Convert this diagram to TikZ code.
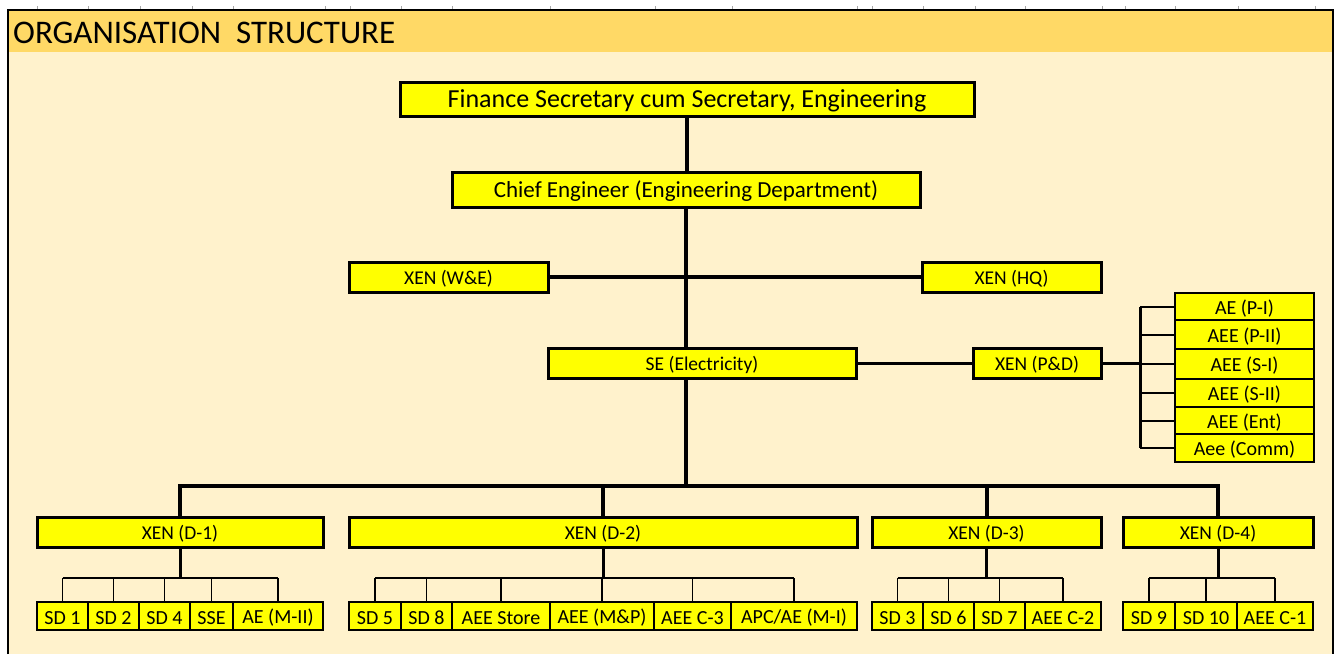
\documentclass[tikz,border=0pt]{standalone}
\usepackage{fontspec}
\setmainfont{Carlito}
\definecolor{hdr}{HTML}{FFD966}
\definecolor{bodyc}{HTML}{FFF2CC}
\definecolor{boxy}{HTML}{FFFF00}
\newcommand\obox[7]{\node[#6, minimum width={#4-#2}, minimum height={#5-#3}] (#1) at ({(#2+#4)/2},{(#3+#5)/2}) {\raisebox{-2pt}[\height][\depth]{#7}};}
\begin{document}
\begin{tikzpicture}[x=1pt,y=-1pt,
  bigbox/.style={draw, fill=boxy, line width=3pt, inner sep=0pt, font=\fontsize{19.5}{21}\selectfont},
  smallbox/.style={draw, fill=boxy, line width=2pt, inner sep=0pt, font=\fontsize{20}{21}\selectfont},
  conn/.style={line width=4pt},
  midconn/.style={line width=3pt},
  subh/.style={line width=2pt},
  tickl/.style={line width=1.2pt},
  gridtick/.style={line width=0.8pt, gray!70}]
\useasboundingbox (0,0) rectangle (1336,654);
\fill[bodyc] (8,52) rectangle (1333,654);
\fill[hdr] (8,10) rectangle (1333,52);
\foreach \t in {37,88,140,192,233,325,350,401,452,550,655,732,857,872,923,975,1025,1102,1125,1175,1238,1315}
  \draw[gridtick] (\t,6) -- (\t,10);
\draw[line width=2pt] (8,654) -- (8,10) -- (1333,10) -- (1333,654);
\node[anchor=west, inner sep=0pt, font=\fontsize{33}{35}\selectfont] (title) at (13,33) {ORGANISATION\ \ STRUCTURE};
% top levels
\obox{fs}{400}{82}{974}{116}{bigbox, font=\fontsize{26}{28}\selectfont}{Finance Secretary cum Secretary, Engineering}
\obox{ce}{452}{172}{920}{207}{bigbox, font=\fontsize{23}{25}\selectfont}{Chief Engineer (Engineering Department)}
\obox{we}{349}{262}{548}{292}{bigbox}{XEN (W\&E)}
\obox{hq}{922}{262}{1101}{292}{bigbox}{XEN (HQ)}
\obox{se}{548}{348}{856}{378}{bigbox}{SE (Electricity)}
\obox{pd}{973}{348}{1101}{378}{bigbox}{XEN (P\&D)}
% right list
\obox{r1}{1175}{293}{1314}{320}{smallbox}{AE (P-I)}
\obox{r2}{1175}{320}{1314}{349}{smallbox}{AEE (P-II)}
\obox{r3}{1175}{349}{1314}{379}{smallbox}{AEE (S-I)}
\obox{r4}{1175}{379}{1314}{407}{smallbox}{AEE (S-II)}
\obox{r5}{1175}{407}{1314}{434}{smallbox}{AEE (Ent)}
\obox{r6}{1175}{434}{1314}{462}{smallbox}{Aee (Comm)}
% divisions
\obox{d1}{37}{517}{323}{547}{bigbox}{XEN (D-1)}
\obox{d2}{349}{517}{857}{547}{bigbox}{XEN (D-2)}
\obox{d3}{872}{517}{1101}{547}{bigbox}{XEN (D-3)}
\obox{d4}{1123}{517}{1313}{547}{bigbox}{XEN (D-4)}
% sub divisions
\obox{a1}{37}{602}{88}{630}{smallbox}{SD 1}
\obox{a2}{88}{602}{139}{630}{smallbox}{SD 2}
\obox{a3}{139}{602}{190}{630}{smallbox}{SD 4}
\obox{a4}{190}{602}{233}{630}{smallbox}{SSE}
\obox{a5}{233}{602}{323}{630}{smallbox}{AE (M-II)}
\obox{b1}{349}{602}{401}{630}{smallbox}{SD 5}
\obox{b2}{401}{602}{452}{630}{smallbox}{SD 8}
\obox{b3}{452}{602}{550}{630}{smallbox}{AEE Store}
\obox{b4}{550}{602}{654}{630}{smallbox}{AEE (M\&P)}
\obox{b5}{654}{602}{731}{630}{smallbox}{AEE C-3}
\obox{b6}{731}{602}{857}{630}{smallbox}{APC/AE (M-I)}
\obox{c1}{872}{602}{923}{630}{smallbox}{SD 3}
\obox{c2}{923}{602}{974}{630}{smallbox}{SD 6}
\obox{c3}{974}{602}{1025}{630}{smallbox}{SD 7}
\obox{c4}{1025}{602}{1101}{630}{smallbox}{AEE C-2}
\obox{e1}{1123}{602}{1175}{630}{smallbox}{SD 9}
\obox{e2}{1175}{602}{1237}{630}{smallbox}{SD 10}
\obox{e3}{1237}{602}{1313}{630}{smallbox}{AEE C-1}
% connectors
\draw[conn] (fs.south) -- (fs.south |- ce.north);
\draw[conn] (ce.south) -- (ce.south |- se.north);
\draw[conn] (we.east) -- (hq.west);
\draw[midconn] (se.east) -- (pd.west);
\coordinate (bus) at (686,486);
\draw[conn] (ce.south |- se.south) -- (bus);
\draw[conn] (d1.north) -- (d1.north |- bus) -- (d4.north |- bus) -- (d4.north);
\draw[conn] (d2.north |- bus) -- (d2.north);
\draw[conn] (d3.north |- bus) -- (d3.north);
% right bracket
\coordinate (br) at (1140,0);
\draw[midconn] (pd.east) -- (pd.east -| br);
\draw[midconn] (r1.west -| br) -- (r6.west -| br);
\foreach \r in {r1,r2,r3,r4,r5,r6}
  \draw[subh] (\r.west -| br) -- (\r.west);
% sub-buses
\coordinate (sb) at (0,578);
\draw[midconn] (d1.south) -- (d1.south |- sb);
\draw[subh] (a1.north |- sb) -- (a5.north |- sb);
\foreach \n in {a1,a2,a3,a4,a5} \draw[tickl] (\n.north |- sb) -- (\n.north);
\draw[midconn] (d2.south) -- (d2.south |- sb);
\draw[subh] (b1.north |- sb) -- (b6.north |- sb);
\foreach \n in {b1,b2,b3,b4,b5,b6} \draw[tickl] (\n.north |- sb) -- (\n.north);
\draw[midconn] (d3.south) -- (d3.south |- sb);
\draw[subh] (c1.north |- sb) -- (c4.north |- sb);
\foreach \n in {c1,c2,c3,c4} \draw[tickl] (\n.north |- sb) -- (\n.north);
\draw[midconn] (d4.south) -- (d4.south |- sb);
\draw[subh] (e1.north |- sb) -- (e3.north |- sb);
\foreach \n in {e1,e2,e3} \draw[tickl] (\n.north |- sb) -- (\n.north);
\end{tikzpicture}
\end{document}
